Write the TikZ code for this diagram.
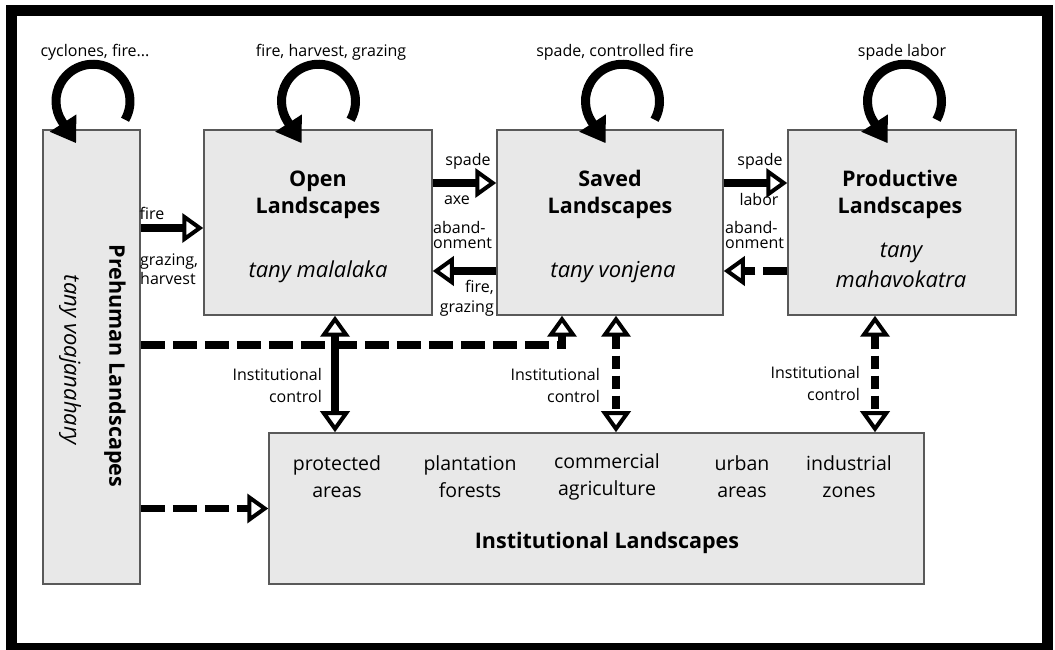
\documentclass[tikz,border=0pt]{standalone}
\usepackage{fontspec}
\setmainfont{Open Sans}
\usepackage{tikz}
\usetikzlibrary{arrows.meta,positioning}
\tikzset{
  otip/.tip={Triangle[open, length=21pt, width=29pt, line width=4pt]},
  ftip/.tip={Triangle[length=24pt, width=30pt]}
}

\begin{document}
\begin{tikzpicture}[x=1pt, y=1pt,
  box/.style={draw=black!65, line width=1.5pt, fill=black!9, inner sep=0pt},
  conn/.style={line width=7.5pt, -otip},
  both/.style={line width=7.5pt, otip-otip},
  dashline/.style={dash pattern=on 24pt off 8pt},
  vdash/.style={dash pattern=on 13pt off 7pt},
  selfloop/.style={line width=9pt, -ftip},
  lbl/.style={font=\fontsize{16}{19}\selectfont, inner sep=1pt},
  title/.style={font=\fontsize{21.5}{27}\selectfont\bfseries, align=center},
  tany/.style={font=\fontsize{22}{30}\selectfont\itshape, align=center},
  item/.style={font=\fontsize{19.5}{27}\selectfont, align=center}]
\useasboundingbox (0,0) rectangle (1055,650);
\draw[line width=11pt] (11,1.5) rectangle (1047,639);
% Landscape boxes
\node[box, minimum width=97pt, minimum height=454pt] (pre) at (91.5,293) {};
\node[box, minimum width=228pt, minimum height=185pt] (open) at (318,427.5) {};
\node[box, minimum width=226pt, minimum height=185pt] (saved) at (610,427.5) {};
\node[box, minimum width=228pt, minimum height=185pt] (prod) at (902,427.5) {};
\node[box, minimum width=655pt, minimum height=151pt] (inst) at (596.5,141.5) {};
% Box texts
\node[title, rotate=-90] (pret) at (115,284) {Prehuman Landscapes};
\node[tany, rotate=-90] (prea) at (70,290) {tany voajanahary};
\node[title] (opent) at (318,455) {Open\\Landscapes};
\node[tany] (opena) at (318,378) {tany malalaka};
\node[title] (savedt) at (610,456) {Saved\\Landscapes};
\node[tany] (saveda) at (613,378) {tany vonjena};
\node[title] (prodt) at (900,456) {Productive\\Landscapes};
\node[tany] (proda) at (901,385) {tany\\mahavokatra};
\node[item] (i1) at (337,173.5) {protected\\areas};
\node[item] (i2) at (470,173.5) {plantation\\forests};
\node[item] (i3) at (607,173.5) {commercial\\agriculture};
\node[item] (i4) at (742,173.5) {urban\\areas};
\node[item] (i5) at (849,173.5) {industrial\\zones};
\node[title] (instt) at (607,107) {Institutional Landscapes};
% Self loops
\draw[selfloop] ([xshift=1.5pt, yshift=28pt]pre.north) ++(-30:37) arc[start angle=-30, end angle=213, radius=37] -- ++(-57:26);
\draw[selfloop] ([xshift=0.5pt, yshift=28pt]open.north) ++(-30:37) arc[start angle=-30, end angle=213, radius=37] -- ++(-57:26);
\draw[selfloop] ([xshift=12.5pt, yshift=28pt]saved.north) ++(-30:37) arc[start angle=-30, end angle=213, radius=37] -- ++(-57:26);
\draw[selfloop] ([xshift=2.5pt, yshift=28pt]prod.north) ++(-30:37) arc[start angle=-30, end angle=213, radius=37] -- ++(-57:26);
\node[lbl] (lpre) at (95,598) {cyclones, fire...};
\node[lbl] (lopen) at (331,598) {fire, harvest, grazing};
\node[lbl] (lsaved) at (615,598) {spade, controlled fire};
\node[lbl] (lprod) at (902,598) {spade labor};
% Dashed links
\draw[dashline, line width=7.5pt, -otip] (pre.east |- 0,305) -| (562,0 |- saved.south);
\draw[dashline, conn] (pre.east |- inst.west) -- (inst.west);
\draw[dashline, conn] (prod.west |- 0,379) -- (saved.east |- 0,379);
\draw[vdash, both] (saved.south -| 616,0) -- (inst.north -| 616,0);
\draw[vdash, both] (prod.south -| 875,0) -- (inst.north -| 875,0);
% Solid links
\draw[conn] (pre.east |- 0,422) -- (open.west |- 0,422);
\draw[conn] (open.east |- 0,467) -- (saved.west |- 0,467);
\draw[conn] (saved.west |- 0,379) -- (open.east |- 0,379);
\draw[conn] (saved.east |- 0,467) -- (prod.west |- 0,467);
\draw[both] (open.south -| 335,0) -- (inst.north -| 335,0);
% Link labels
\node[lbl] (f1) at (152,437) {fire};
\node[lbl, anchor=west, align=left, font=\fontsize{16}{19}\selectfont] (f2) at (139,380.5) {grazing,\\harvest};
\node[lbl] (s1) at (468,489) {spade};
\node[lbl] (s2) at (457,450) {axe};
\node[lbl, anchor=west, align=left, font=\fontsize{16}{15}\selectfont] (s3) at (432,414.5) {aband-\\onment};
\node[lbl, anchor=east, align=right, font=\fontsize{16}{20}\selectfont] (s4) at (495,352) {fire,\\grazing};
\node[lbl] (p1) at (760,489) {spade};
\node[lbl] (p2) at (759,450) {labor};
\node[lbl, anchor=west, align=left, font=\fontsize{16}{15}\selectfont] (p3) at (724,414.5) {aband-\\onment};
\node[lbl, anchor=east, align=right, font=\fontsize{16}{22}\selectfont] (c1) at (323,264) {Institutional\\control};
\node[lbl, anchor=east, align=right, font=\fontsize{16}{22}\selectfont] (c2) at (601,264) {Institutional\\control};
\node[lbl, anchor=east, align=right, font=\fontsize{16}{22}\selectfont] (c3) at (861,266) {Institutional\\control};
\end{tikzpicture}
\end{document}
